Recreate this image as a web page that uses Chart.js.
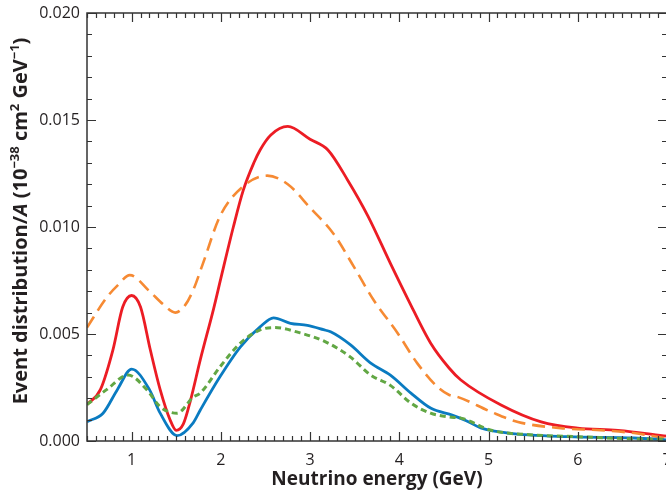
<!DOCTYPE html>
<html lang="en">
<head>
  <meta charset="UTF-8">
  <title>Event distribution vs neutrino energy</title>
  <style>
    html, body { margin: 0; padding: 0; background: #fff; overflow: hidden; }
    #wrap { width: 666px; height: 491px; overflow: hidden; }
  </style>
</head>
<body>
<div id="wrap">
  <canvas id="chart" width="675" height="491"></canvas>
</div>

<script src="https://cdn.jsdelivr.net/npm/chart.js"></script>

<script>
  // values, y in units of 1e-3
  const redX = [0.5, 0.65, 0.79, 0.9, 1.0, 1.1, 1.21, 1.32, 1.43, 1.5, 1.58, 1.66, 1.77, 1.92, 2.0, 2.14, 2.25, 2.37, 2.44, 2.56, 2.75, 3.0, 3.2, 3.42, 3.65, 3.9, 4.1, 4.35, 4.56, 4.69, 5.14, 5.59, 6.0, 6.45, 7.0];
  const redY = [1.7, 2.4, 4.25, 6.26, 6.8, 6.26, 4.25, 2.4, 1.0, 0.5, 0.8, 1.9, 3.8, 6.2, 7.6, 10.0, 11.7, 13.0, 13.6, 14.3, 14.7, 14.1, 13.6, 12.2, 10.5, 8.3, 6.6, 4.58, 3.4, 2.85, 1.68, 0.89, 0.6, 0.5, 0.23];

  const orangeX = [0.5, 0.72, 0.85, 0.98, 1.2, 1.35, 1.49, 1.6, 1.69, 1.8, 1.99, 2.25, 2.52, 2.75, 3.0, 3.26, 3.49, 3.71, 3.98, 4.2, 4.43, 4.56, 4.66, 5.03, 5.33, 5.81, 6.26, 6.63, 6.97];
  const orangeY = [5.3, 6.7, 7.3, 7.75, 7.0, 6.4, 6.0, 6.35, 7.05, 8.3, 10.5, 11.9, 12.4, 12.0, 10.9, 9.7, 8.15, 6.6, 5.05, 3.64, 2.52, 2.15, 2.05, 1.36, 0.89, 0.6, 0.5, 0.37, 0.14];

  const blueX = [0.5, 0.68, 0.84, 1.0, 1.2, 1.32, 1.51, 1.69, 1.77, 1.99, 2.22, 2.44, 2.59, 2.78, 2.97, 3.15, 3.23, 3.45, 3.68, 3.9, 4.13, 4.35, 4.6, 4.75, 4.92, 5.22, 5.89, 6.63, 7.0];
  const blueY = [0.9, 1.3, 2.4, 3.36, 2.4, 1.3, 0.25, 0.85, 1.45, 3.0, 4.4, 5.33, 5.75, 5.5, 5.4, 5.2, 5.1, 4.5, 3.64, 3.08, 2.24, 1.54, 1.2, 0.95, 0.6, 0.37, 0.2, 0.14, 0.05];

  const greenX = [0.5, 0.72, 0.96, 1.17, 1.32, 1.51, 1.69, 1.77, 1.99, 2.22, 2.44, 2.6, 2.89, 3.19, 3.45, 3.68, 3.9, 4.13, 4.35, 4.56, 4.69, 5.03, 5.51, 6.0, 6.63, 7.0];
  const greenY = [1.7, 2.4, 3.08, 2.4, 1.6, 1.3, 2.05, 2.24, 3.46, 4.58, 5.19, 5.3, 5.05, 4.6, 3.93, 3.08, 2.6, 1.77, 1.3, 1.12, 1.07, 0.5, 0.28, 0.2, 0.1, 0.08];

  const xTicks = [1, 2, 3, 4, 5, 6, 7];
  const yTicks = [0, 0.005, 0.01, 0.015, 0.02];

  const pts = (xs, ys) => xs.map((x, i) => ({ x, y: ys[i] / 1000 }));

  const ink = '#231f20';

  // inward ticks and the box round the plot
  const frame = {
    id: 'frame',
    afterDraw(chart) {
      const { ctx, chartArea: a, scales: { x, y } } = chart;
      ctx.save();
      ctx.strokeStyle = '#333';
      ctx.lineWidth = 1.5;
      ctx.strokeRect(a.left, a.top, a.right - a.left, a.bottom - a.top);
      ctx.beginPath();
      for (let i = 5; i <= 70; i++) {
        const px = Math.round(x.getPixelForValue(i / 10)) + 0.5;
        const len = i % 10 === 0 ? 9 : 5;
        ctx.moveTo(px, a.bottom); ctx.lineTo(px, a.bottom - len);
        ctx.moveTo(px, a.top); ctx.lineTo(px, a.top + len);
      }
      for (let i = 0; i <= 20; i++) {
        const py = Math.round(y.getPixelForValue(i / 1000)) + 0.5;
        const len = i % 5 === 0 ? 9 : 5;
        ctx.moveTo(a.left, py); ctx.lineTo(a.left + len, py);
        ctx.moveTo(a.right, py); ctx.lineTo(a.right - len, py);
      }
      ctx.lineWidth = 1.2;
      ctx.stroke();

      // y title with italic A and superscripts
      const big = 'bold 20px "Open Sans"';
      const ital = 'italic bold 20px "Open Sans"';
      const sup = 'bold 13px "Open Sans"';
      const parts = [
        ['Event distribution/', big, 0],
        ['A', ital, 0],
        [' (10', big, 0],
        ['\u221238', sup, -8],
        [' cm', big, 0],
        ['2', sup, -8],
        [' GeV', big, 0],
        ['\u22121', sup, -8],
        [')', big, 0]
      ];
      let total = 0;
      parts.forEach(p => { ctx.font = p[1]; total += ctx.measureText(p[0]).width; });
      ctx.translate(27, 221);
      ctx.rotate(-Math.PI / 2);
      ctx.fillStyle = ink;
      ctx.textBaseline = 'alphabetic';
      let cx = -total / 2;
      parts.forEach(p => {
        ctx.font = p[1];
        ctx.fillText(p[0], cx, p[2]);
        cx += ctx.measureText(p[0]).width;
      });
      ctx.restore();
    }
  };

  const line = (data, color, dash, width) => ({
    data,
    borderColor: color,
    borderWidth: width,
    borderDash: dash,
    pointRadius: 0,
    fill: false,
    cubicInterpolationMode: 'monotone'
  });

  new Chart(document.getElementById('chart'), {
    type: 'line',
    data: {
      datasets: [
        line(pts(greenX, greenY), '#62a744', [6, 4], 3),
        line(pts(blueX, blueY), '#0a7bc1', [], 2.8),
        line(pts(orangeX, orangeY), '#f68a33', [13, 7], 2.6),
        line(pts(redX, redY), '#ec1c24', [], 2.8)
      ]
    },
    options: {
      responsive: false,
      animation: false,
      layout: { padding: { top: 13, right: 8, left: 0, bottom: 0 } },
      plugins: {
        legend: { display: false },
        tooltip: { enabled: false }
      },
      scales: {
        x: {
          type: 'linear',
          min: 0.5,
          max: 7,
          afterBuildTicks: s => { s.ticks = xTicks.map(v => ({ value: v })); },
          afterFit: s => { s.height = 50; s.paddingLeft = 0; s.paddingRight = 0; },
          grid: { display: false, drawTicks: false },
          border: { display: false },
          ticks: { padding: 10, color: ink, font: { family: 'Open Sans', size: 16 } },
          title: {
            display: true,
            text: 'Neutrino energy (GeV)',
            color: ink,
            font: { family: 'Open Sans', size: 19, weight: 'bold' },
            padding: { top: 0, bottom: 0 }
          }
        },
        y: {
          min: 0,
          max: 0.02,
          afterBuildTicks: s => { s.ticks = yTicks.map(v => ({ value: v })); },
          afterFit: s => { s.width = 87; s.paddingTop = 0; s.paddingBottom = 0; },
          grid: { display: false, drawTicks: false },
          border: { display: false },
          ticks: {
            padding: 7,
            color: ink,
            font: { family: 'Open Sans', size: 16 },
            callback: v => v.toFixed(3)
          }
        }
      }
    },
    plugins: [frame]
  });
</script>
</body>
</html>
